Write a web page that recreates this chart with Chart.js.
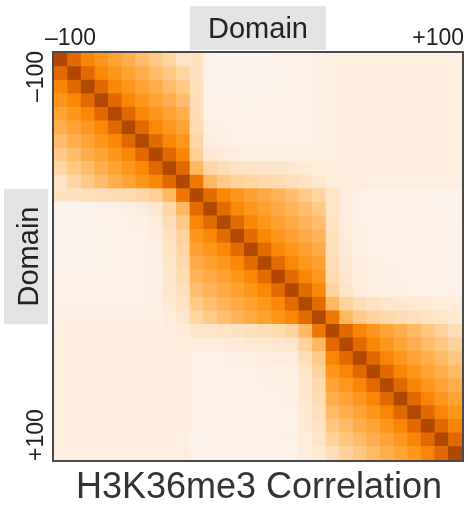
<!DOCTYPE html>
<html>
<head>
<meta charset="utf-8">
<script src="https://cdn.jsdelivr.net/npm/chart.js@4.4.1/dist/chart.umd.min.js"></script>
<style>
  html, body { margin: 0; padding: 0; background: #fff; }
  #wrap { width: 468px; height: 505px; }
</style>
</head>
<body>
<div id="wrap"><canvas id="myChart" width="468" height="505"></canvas></div>
<script>
// 30 bins along the region, -100 .. +100
const bins = ['1','2','3','4','5','6','7','8','9','10','11','12','13','14','15',
              '16','17','18','19','20','21','22','23','24','25','26','27','28','29','30'];
const tickLabels = ['\u2013100', '+100'];
const domainLabel = 'Domain';
const chartTitle = 'H3K36me3 Correlation';

// correlation matrix (0..100), row 0 = top
const corrRows = [
  [100,78,66,58,51,45,38,32,25,17, 18,5,4,4,4,4,5,6,7,8, 9,9,9,9,9,9,9,9,9,9],
  [78,100,78,66,58,51,45,38,32,25, 18,5,4,4,4,5,5,6,7,8, 9,9,9,9,9,9,9,9,9,9],
  [66,78,100,78,66,58,51,45,38,32, 19,5,5,5,5,5,5,6,7,8, 9,9,9,9,9,9,9,9,9,9],
  [58,66,78,100,78,66,58,51,45,38, 20,6,5,5,5,5,6,6,7,8, 9,9,9,9,9,9,9,9,9,9],
  [51,58,66,78,100,78,66,58,51,45, 21,7,6,6,6,6,6,7,7,8, 9,9,9,9,9,9,9,9,9,9],
  [45,51,58,66,78,100,78,66,58,51, 22,8,7,6,6,6,6,7,7,8, 9,9,9,9,9,9,9,9,9,9],
  [38,45,51,58,66,78,100,78,66,58, 24,10,8,7,7,7,7,7,7,8, 9,9,9,9,9,9,9,9,9,9],
  [32,38,45,51,58,66,78,100,78,66, 28,14,11,9,8,8,8,8,8,8, 9,9,9,9,9,9,9,9,9,9],
  [25,32,38,45,51,58,66,78,100,78, 40,24,20,18,17,16,15,14,13,11, 10,9,9,9,9,9,9,9,9,9],
  [17,25,32,38,45,51,58,66,78,100, 72,40,31,27,25,23,21,19,17,14, 11,10,9,9,9,9,9,9,9,9],
  [18,18,19,20,21,22,24,28,40,72, 100,77,66,58,52,47,42,37,31,25, 16,10,7,6,6,6,6,6,5,5],
  [5,5,5,6,7,8,10,14,24,40, 77,100,77,66,58,52,47,42,37,31, 16,10,7,6,6,6,6,6,5,5],
  [4,4,5,5,6,7,8,11,20,31, 66,77,100,77,66,58,52,47,42,37, 17,10,7,6,6,6,6,6,6,5],
  [4,4,5,5,6,6,7,9,18,27, 58,66,77,100,77,66,58,52,47,42, 18,11,8,7,6,6,6,6,6,6],
  [4,4,5,5,6,6,7,8,17,25, 52,58,66,77,100,77,66,58,52,47, 19,12,8,7,7,6,6,6,6,6],
  [4,5,5,5,6,6,7,8,16,23, 47,52,58,66,77,100,77,66,58,52, 20,13,9,8,7,7,6,6,6,6],
  [5,5,5,6,6,6,7,8,15,21, 42,47,52,58,66,77,100,77,66,58, 22,14,10,8,8,7,7,6,6,6],
  [6,6,6,6,7,7,7,8,14,19, 37,42,47,52,58,66,77,100,77,66, 26,16,11,9,8,8,7,7,7,6],
  [7,7,7,7,7,7,7,8,13,17, 31,37,42,47,52,58,66,77,100,77, 40,26,20,17,15,14,13,12,11,10],
  [8,8,8,8,8,8,8,8,11,14, 25,31,37,42,47,52,58,66,77,100, 72,40,31,26,23,21,19,17,15,13],
  [9,9,9,9,9,9,9,9,10,11, 16,16,17,18,19,20,22,26,40,72, 100,78,67,58,51,45,39,33,27,20],
  [9,9,9,9,9,9,9,9,9,10, 10,10,10,11,12,13,14,16,26,40, 78,100,78,67,58,51,45,39,33,27],
  [9,9,9,9,9,9,9,9,9,9, 7,7,7,8,8,9,10,11,20,31, 67,78,100,78,67,58,51,45,39,33],
  [9,9,9,9,9,9,9,9,9,9, 6,6,6,7,7,8,8,9,17,26, 58,67,78,100,78,67,58,51,45,39],
  [9,9,9,9,9,9,9,9,9,9, 6,6,6,6,7,7,8,8,15,23, 51,58,67,78,100,78,67,58,51,45],
  [9,9,9,9,9,9,9,9,9,9, 6,6,6,6,6,7,7,8,14,21, 45,51,58,67,78,100,78,67,58,51],
  [9,9,9,9,9,9,9,9,9,9, 6,6,6,6,6,6,7,7,13,19, 39,45,51,58,67,78,100,78,67,58],
  [9,9,9,9,9,9,9,9,9,9, 6,6,6,6,6,6,6,7,12,17, 33,39,45,51,58,67,78,100,78,67],
  [9,9,9,9,9,9,9,9,9,9, 5,5,6,6,6,6,6,7,11,15, 27,33,39,45,51,58,67,78,100,78],
  [9,9,9,9,9,9,9,9,9,9, 5,5,5,6,6,6,6,6,10,13, 20,27,33,39,45,51,58,67,78,100]
];

// white -> orange -> dark orange
const colorStops = [
  [0,   [251, 248, 245]],
  [8,   [253, 239, 226]],
  [18,  [255, 226, 192]],
  [30,  [255, 204, 140]],
  [42,  [255, 180, 90]],
  [55,  [255, 155, 35]],
  [66,  [250, 135, 5]],
  [78,  [225, 105, 0]],
  [100, [176, 72, 0]]
];

function cellColor(v) {
  for (let k = 1; k < colorStops.length; k++) {
    if (v <= colorStops[k][0]) {
      const a = colorStops[k - 1], b = colorStops[k];
      const t = (v - a[0]) / (b[0] - a[0]);
      const c = a[1].map((x, i) => Math.round(x + (b[1][i] - x) * t));
      return 'rgb(' + c.join(',') + ')';
    }
  }
  return 'rgb(176,72,0)';
}

const FONT = "'Liberation Sans', Arial, Helvetica, sans-serif";

const decorPlugin = {
  id: 'decor',
  beforeDraw(chart) {
    const ctx = chart.ctx;
    ctx.save();
    ctx.fillStyle = '#fff';
    ctx.fillRect(0, 0, chart.width, chart.height);
    // grey domain boxes, lined up with the middle domain bins
    const x = chart.scales.x, y = chart.scales.y;
    const half = (x.getPixelForValue(1) - x.getPixelForValue(0)) / 2;
    const d0 = x.getPixelForValue(10) - half, d1 = x.getPixelForValue(19) + half;
    const yTop = y.getPixelForValue(20), yBot = y.getPixelForValue(10);
    ctx.fillStyle = '#e3e3e3';
    ctx.fillRect(d0, 6, d1 - d0, 44);
    ctx.fillRect(4, yTop, 44, yBot - yTop);
    ctx.restore();
  },
  afterDraw(chart) {
    const ctx = chart.ctx;
    const ca = chart.chartArea;
    const x = chart.scales.x, y = chart.scales.y;
    ctx.save();
    // frame
    ctx.strokeStyle = '#4a4a4a';
    ctx.lineWidth = 2;
    ctx.strokeRect(ca.left - 1, ca.top - 1, ca.right - ca.left + 2, ca.bottom - ca.top + 2);

    ctx.fillStyle = '#222';
    ctx.textBaseline = 'alphabetic';
    // top ticks
    ctx.font = '23px ' + FONT;
    ctx.textAlign = 'left';
    ctx.fillText(tickLabels[0], 45, 45);
    ctx.textAlign = 'right';
    ctx.fillText(tickLabels[1], 464, 45);
    // left ticks (rotated)
    ctx.save();
    ctx.translate(43, 102);
    ctx.rotate(-Math.PI / 2);
    ctx.textAlign = 'left';
    ctx.fillText(tickLabels[0], 0, 0);
    ctx.restore();
    ctx.save();
    ctx.translate(43, 461);
    ctx.rotate(-Math.PI / 2);
    ctx.textAlign = 'left';
    ctx.fillText(tickLabels[1], 0, 0);
    ctx.restore();

    // domain labels
    ctx.font = '29px ' + FONT;
    ctx.textAlign = 'center';
    const mid = (x.getPixelForValue(14) + x.getPixelForValue(15)) / 2;
    ctx.fillText(domainLabel, mid, 38);
    ctx.save();
    const midY = (y.getPixelForValue(15)) ;
    ctx.translate(37.5, midY);
    ctx.rotate(-Math.PI / 2);
    ctx.fillText(domainLabel, 0, 0);
    ctx.restore();

    // bottom title
    ctx.fillStyle = '#333';
    ctx.font = '36px ' + FONT;
    ctx.textAlign = 'center';
    ctx.fillText(chartTitle, 259, 498);
    ctx.restore();
  }
};

function myLoadFunction() {
  const ctx = document.getElementById('myChart').getContext('2d');

  // one stacked dataset per matrix row, bottom row first
  const datasets = [];
  for (let r = corrRows.length - 1; r >= 0; r--) {
    const row = corrRows[r];
    datasets.push({
      label: 'row ' + (r + 1),
      data: row.map(() => 1),
      backgroundColor: row.map(v => cellColor(v)),
      borderWidth: 0,
      barPercentage: 1,
      categoryPercentage: 1
    });
  }

  var myChartConfig = {
    type: 'bar',
    data: { labels: bins, datasets: datasets },
    options: {
      responsive: false,
      animation: false,
      layout: { padding: { left: 54, top: 53, right: 6, bottom: 45 } },
      plugins: {
        legend: { display: false },
        tooltip: { enabled: false },
        title: { display: false }
      },
      scales: {
        x: { stacked: true, display: false },
        y: { stacked: true, display: false, min: 0, max: 30 }
      }
    },
    plugins: [decorPlugin]
  };

  const myChart = new Chart(ctx, myChartConfig);
}

document.addEventListener('DOMContentLoaded', myLoadFunction);
</script>
</body>
</html>
